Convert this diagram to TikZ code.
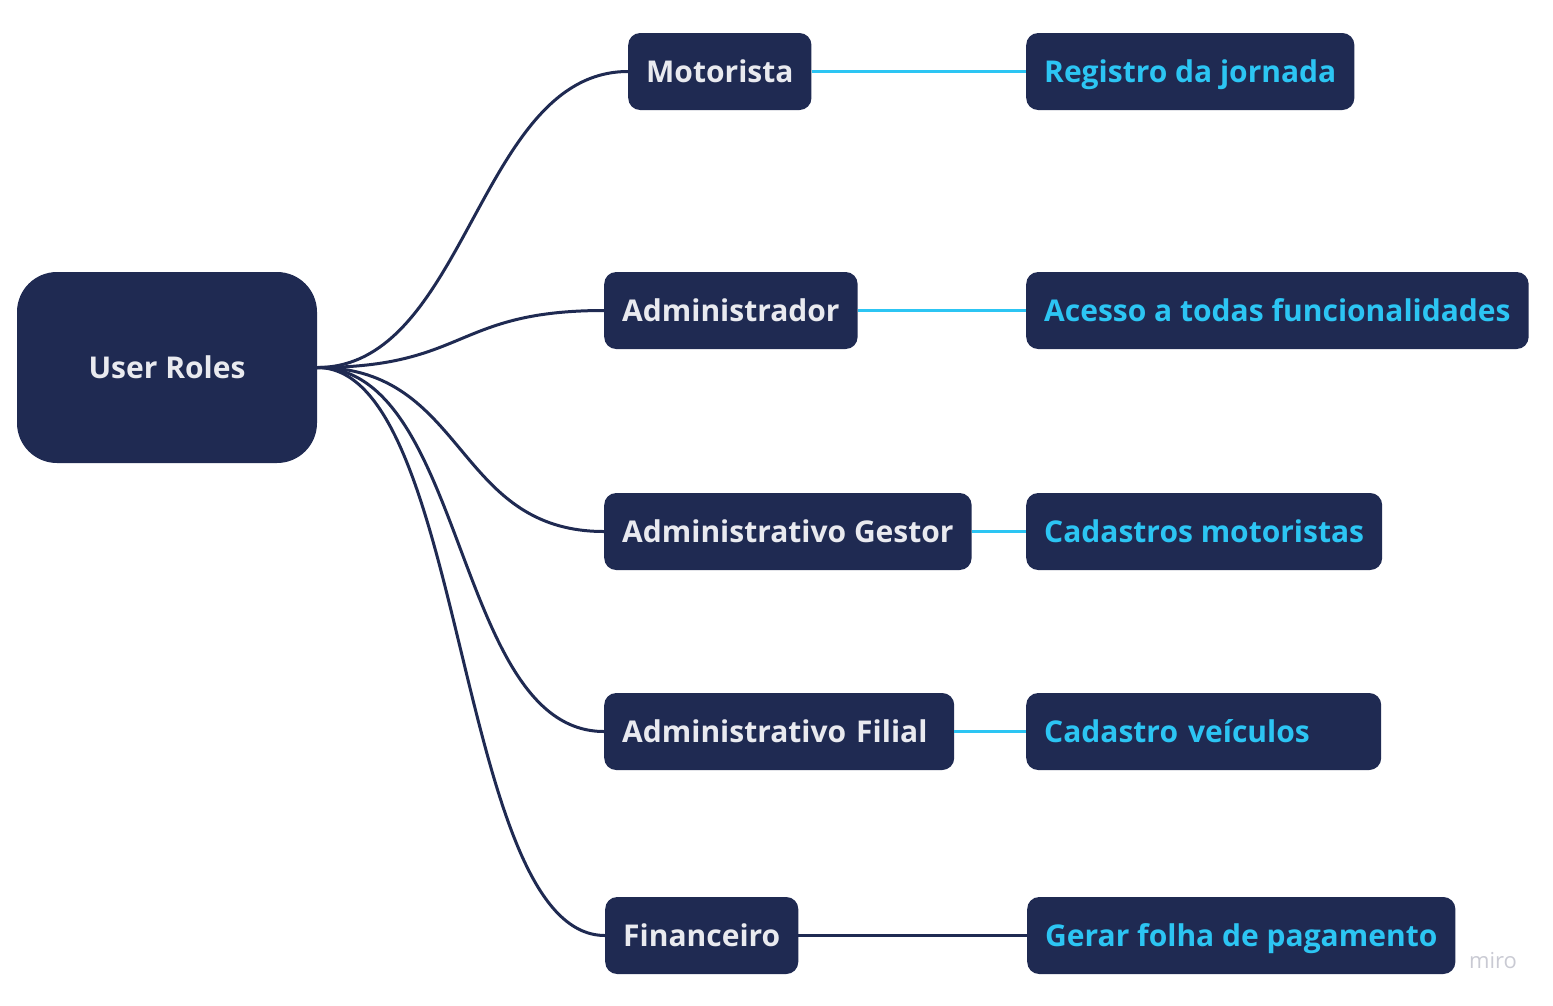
\documentclass[tikz,border=0pt]{standalone}
\usepackage{fontspec}
\setmainfont{Open Sans}
\usetikzlibrary{positioning}
\definecolor{navy}{HTML}{1F2A52}
\definecolor{sky}{HTML}{2CC5F3}
\definecolor{paper}{HTML}{E9EAEF}
\definecolor{mark}{HTML}{C9CAD3}

\begin{document}
\begin{tikzpicture}[x=1pt,y=-1pt,
	label font/.style={font=\bfseries\fontsize{30}{36}\selectfont,text height=24pt,text depth=3pt},
	role/.style={label font,fill=navy,rounded corners=12pt,text=paper,minimum height=77pt,inner xsep=18pt,anchor=west},
	task/.style={role,text=sky},
	branch/.style={draw=navy,line width=3pt},
	link/.style={draw=sky,line width=3.5pt}]
	\useasboundingbox (0,0) rectangle (1553,1005);
	% centre
	\node[label font,fill=navy,rounded corners=40pt,text=paper,minimum width=300pt,minimum height=191pt] (root) at (167,367.5) {User Roles};
	% roles
	\node[role] (mot) at (628,71.5) {Motorista};
	\node[role] (adm) at (604,310.5) {Administrador};
	\node[role] (gest) at (604,531.5) {Administrativo Gestor};
	\node[role,text width=314pt,align=left] (fil) at (604,731.5) {Administrativo Filial};
	\node[role] (fin) at (605,935.5) {Financeiro};
	% tasks
	\node[task] (reg) at (1026,71.5) {Registro da jornada};
	\node[task] (acc) at (1026,310.5) {Acesso a todas funcionalidades};
	\node[task] (cad) at (1026,531.5) {Cadastros motoristas};
	\node[task,text width=319pt,align=left] (vei) at (1026,731.5) {Cadastro veículos};
	\node[task] (fol) at (1027,935.5) {Gerar folha de pagamento};
	\foreach \r in {mot,adm,gest,fil,fin}
		\draw[branch] (root.east) .. controls +(150,0) and +(-150,0) .. (\r.west);
	\draw[link] (mot) -- (reg);
	\draw[link] (adm) -- (acc);
	\draw[link] (gest) -- (cad);
	\draw[link] (fil) -- (vei);
	\draw[branch] (fin) -- (fol);
	\node[text=mark,font=\fontsize{22}{26}\selectfont] (brand) at (1493,961) {miro};
\end{tikzpicture}
\end{document}
